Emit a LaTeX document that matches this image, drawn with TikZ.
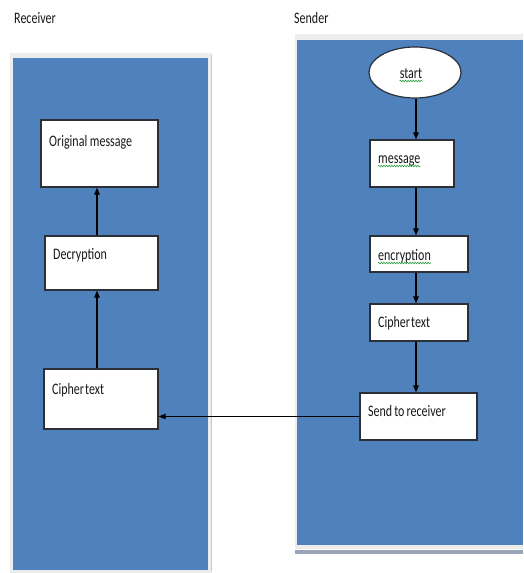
\documentclass[tikz,border=0pt]{standalone}
\usepackage{fontspec}
\setmainfont[FakeStretch=0.75]{Carlito}
\usetikzlibrary{arrows.meta,shapes.geometric,decorations.pathmorphing,calc}
\definecolor{panelblue}{HTML}{4F81BD}
\definecolor{frame}{HTML}{EDEDED}
\definecolor{shadowc}{HTML}{9AA6B8}
\definecolor{boxline}{HTML}{2A2F38}
\definecolor{spell}{HTML}{2EA043}
\begin{document}
\begin{tikzpicture}[x=1pt,y=-1pt,
  box/.style={draw=boxline,line width=1.2pt,fill=white,inner sep=0pt},
  lbl/.style={anchor=base west,inner sep=0pt,font=\fontsize{16}{18}\selectfont,text=black!90},
  arr/.style={draw=black,line width=1.1pt,-{Triangle[length=7pt,width=5.5pt]}},
  squiggle/.style={draw=spell,line width=0.6pt,decorate,decoration={snake,amplitude=0.8pt,segment length=2.6pt}}]
\useasboundingbox (0,0) rectangle (523,573);
\fill[white] (0,0) rectangle (523,573);
% panels
\fill[frame] (10,53) rectangle (212,573);
\draw[shadowc!60,line width=0.8pt] (211.5,55) -- (211.5,571);
\fill[panelblue] (13,58) rectangle (208,570);
\fill[frame] (295,34) rectangle (523,549);
\fill[shadowc] (295,550) rectangle (523,554);
\fill[panelblue] (297,40) rectangle (523,545);
% titles
\node[lbl] (trecv) at (14,23) {Receiver};
\node[lbl] (tsend) at (294,23) {Sender};
% receiver boxes
\node[box,minimum width=117pt,minimum height=67pt] (om) at (99.5,153.5) {};
\node[box,minimum width=113pt,minimum height=54pt] (dec) at (101.5,263) {};
\node[box,minimum width=114pt,minimum height=60pt] (cl) at (101,399) {};
\node[lbl] (tom) at (49,146) {Original message};
\node[lbl] (tdec) at (53,259) {Decryption};
\node[lbl] (tcl) at (52,394) {Cipher\kern1pt text};
% sender boxes
\node[box,ellipse,minimum width=92pt,minimum height=51pt] (start) at (415,72.5) {};
\node[box,minimum width=84pt,minimum height=47pt] (msg) at (412,163.5) {};
\node[box,minimum width=98pt,minimum height=36pt] (enc) at (419,254) {};
\node[box,minimum width=98pt,minimum height=37pt] (cr) at (419,322.5) {};
\node[box,minimum width=117pt,minimum height=47pt] (send) at (418.5,416.5) {};
\node[lbl,anchor=base] (tstart) at (411,78) {start};
\node[lbl] (tmsg) at (378,163) {message};
\node[lbl] (tenc) at (378,260) {encryption};
\node[lbl] (tcr) at (378,327) {Cipher\kern1pt text};
\node[lbl] (tsendr) at (368,416) {Send\kern2pt to\kern2pt receiver};
% spell-check squiggles
\draw[squiggle] ($(tstart.base west)+(0,3)$) -- ($(tstart.base east)+(0,3)$);
\draw[squiggle] ($(tmsg.base west)+(0,3)$) -- ($(tmsg.base east)+(0,3)$);
\draw[squiggle] ($(tenc.base west)+(0,3)$) -- ($(tenc.base east)+(0,3)$);
% sender arrows
\coordinate (sx) at (416,0);
\draw[arr] (start.south -| sx) -- (msg.north -| sx);
\draw[arr] (msg.south -| sx) -- (enc.north -| sx);
\draw[arr] (enc.south -| sx) -- (cr.north -| sx);
\draw[arr] (cr.south -| sx) -- (send.north -| sx);
% receiver arrows
\coordinate (rx) at (97,0);
\draw[arr] (cl.north -| rx) -- (dec.south -| rx);
\draw[arr] (dec.north -| rx) -- (om.south -| rx);
% cross arrow
\draw[arr] (send.west) -- (send.west -| cl.east);
\end{tikzpicture}
\end{document}
